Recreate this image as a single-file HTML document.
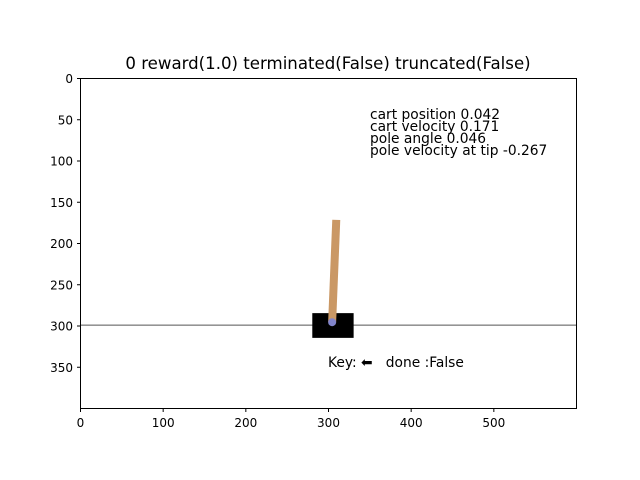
<!DOCTYPE html>
<html><head><meta charset="utf-8"><style>
body{margin:0;background:#fff}
svg{display:block;font-family:"DejaVu Sans","Liberation Sans",sans-serif}
</style></head><body>
<svg id="c" width="640" height="480" viewBox="0 0 640 480">
<rect width="640" height="480" fill="#fff"/>
<text x="328" y="69" font-size="16.6" text-anchor="middle">0 reward(1.0) terminated(False) truncated(False)</text>
<g id="scene"></g>
<rect x="80.5" y="78.5" width="496" height="330" fill="none" stroke="#000" stroke-width="1"/>
<g id="xt"></g>
<g id="yt"></g>
<g font-size="13.8">
<text x="370" y="119">cart position 0.042</text>
<text x="370" y="131">cart velocity 0.171</text>
<text x="370" y="143">pole angle 0.046</text>
<text x="370" y="155">pole velocity at tip -0.267</text>
</g>
<text x="328" y="367" font-size="13.8" xml:space="preserve" style="white-space:pre">Key: ⬅   done :False</text>
</svg>
<script>
const xTicks=[0,100,200,300,400,500];
const yTicks=[0,50,100,150,200,250,300,350];
const cartX=[281,331];const cartY=[285,315];
const poleBase=[305,296];const poleTop=[310,172];
const trackY=[299.5];
const X=v=>80+v*496/600, Y=v=>78+v*330/400;
const NS="http://www.w3.org/2000/svg";
function mk(t,a,p){const e=document.createElementNS(NS,t);for(const k in a)e.setAttribute(k,a[k]);p.appendChild(e);return e;}
const sc=document.getElementById('scene');
let l=mk('line',{x1:X(0),x2:X(600),y1:Y(trackY[0]),y2:Y(trackY[0]),stroke:'#555','stroke-width':1},sc);

let r=mk('rect',{x:X(cartX[0]),y:Y(cartY[0]),width:X(cartX[1])-X(cartX[0]),height:Y(cartY[1])-Y(cartY[0]),fill:'#000'},sc);

let p=mk('line',{x1:X(poleBase[0]),y1:Y(poleBase[1]),x2:X(poleTop[0]),y2:Y(poleTop[1]),stroke:'#ca9865','stroke-width':8},sc);

let c=mk('circle',{cx:X(poleBase[0]),cy:Y(poleBase[1]),r:4,fill:'#8184cb'},sc);

const xg=document.getElementById('xt');
xTicks.forEach(v=>{const x=X(v)+0.5;
 let t=mk('line',{x1:x,x2:x,y1:408.5,y2:412,stroke:'#000'},xg);
 let s=mk('text',{x:x,y:427,'font-size':12,'text-anchor':'middle'},xg);s.textContent=v;});
const yg=document.getElementById('yt');
yTicks.forEach(v=>{const y=Y(v)+0.5;
 let t=mk('line',{x1:77,x2:80.5,y1:y,y2:y,stroke:'#000'},yg);
 let s=mk('text',{x:73,y:y+4.5,'font-size':12,'text-anchor':'end'},yg);s.textContent=v;});
</script>
</body></html>
